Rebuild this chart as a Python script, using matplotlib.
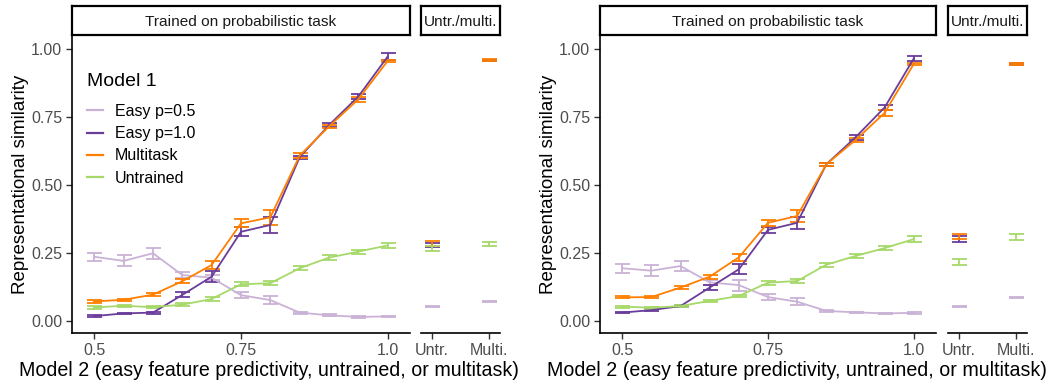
import matplotlib
matplotlib.use("Agg")
import matplotlib.pyplot as plt
from matplotlib.lines import Line2D

plt.rcParams["font.family"] = ["Liberation Sans", "DejaVu Sans"]

# ---- data -------------------------------------------------------------
predictivity = [0.5, 0.55, 0.6, 0.65, 0.7, 0.75, 0.8, 0.85, 0.9, 0.95, 1.0]
extra_cats = ["Untr.", "Multi."]
series_names = ["Easy p=0.5", "Easy p=1.0", "Multitask", "Untrained"]
series_colors = ["#cab2d6", "#6a3d9a", "#ff7f00", "#a6d96a"]

# left figure
left_p05 = [0.236, 0.221, 0.249, 0.169, 0.159, 0.095, 0.077, 0.031, 0.021, 0.015, 0.017]
left_p05_err = [0.015, 0.020, 0.021, 0.012, 0.010, 0.012, 0.015, 0.004, 0.003, 0.003, 0.003]
left_p10 = [0.018, 0.028, 0.031, 0.096, 0.163, 0.328, 0.353, 0.602, 0.720, 0.825, 0.972]
left_p10_err = [0.003, 0.003, 0.004, 0.009, 0.020, 0.017, 0.029, 0.006, 0.007, 0.010, 0.014]
left_multi = [0.072, 0.078, 0.097, 0.146, 0.206, 0.359, 0.381, 0.608, 0.715, 0.815, 0.956]
left_multi_err = [0.004, 0.004, 0.005, 0.007, 0.015, 0.015, 0.027, 0.008, 0.007, 0.010, 0.004]
left_untr = [0.050, 0.056, 0.051, 0.060, 0.081, 0.135, 0.139, 0.194, 0.233, 0.255, 0.278]
left_untr_err = [0.004, 0.004, 0.004, 0.005, 0.006, 0.008, 0.008, 0.008, 0.008, 0.007, 0.008]

left_extra_p05 = [0.053, 0.072]
left_extra_p05_err = [0.003, 0.003]
left_extra_p10 = [0.280, 0.957]
left_extra_p10_err = [0.008, 0.003]
left_extra_multi = [0.284, 0.960]
left_extra_multi_err = [0.010, 0.003]
left_extra_untr = [0.267, 0.283]
left_extra_untr_err = [0.010, 0.008]

# right figure
right_p05 = [0.194, 0.185, 0.202, 0.142, 0.132, 0.088, 0.071, 0.037, 0.032, 0.028, 0.030]
right_p05_err = [0.016, 0.020, 0.020, 0.010, 0.020, 0.010, 0.012, 0.004, 0.003, 0.003, 0.003]
right_p10 = [0.031, 0.040, 0.055, 0.123, 0.190, 0.335, 0.361, 0.576, 0.675, 0.785, 0.965]
right_p10_err = [0.003, 0.003, 0.004, 0.010, 0.018, 0.011, 0.023, 0.006, 0.008, 0.010, 0.010]
right_multi = [0.087, 0.088, 0.123, 0.163, 0.234, 0.361, 0.386, 0.576, 0.665, 0.765, 0.945]
right_multi_err = [0.004, 0.004, 0.005, 0.007, 0.013, 0.011, 0.023, 0.006, 0.007, 0.010, 0.004]
right_untr = [0.053, 0.049, 0.055, 0.074, 0.092, 0.141, 0.147, 0.207, 0.239, 0.268, 0.301]
right_untr_err = [0.004, 0.004, 0.004, 0.004, 0.005, 0.007, 0.009, 0.008, 0.007, 0.007, 0.010]

right_extra_p05 = [0.053, 0.086]
right_extra_p05_err = [0.003, 0.003]
right_extra_p10 = [0.302, 0.944]
right_extra_p10_err = [0.010, 0.003]
right_extra_multi = [0.310, 0.944]
right_extra_multi_err = [0.010, 0.003]
right_extra_untr = [0.217, 0.308]
right_extra_untr_err = [0.012, 0.012]

x_ticks = [0.5, 0.75, 1.0]
x_tick_labels = ["0.5", "0.75", "1.0"]
y_ticks = [0.0, 0.25, 0.5, 0.75, 1.0]
y_tick_labels = ["0.00", "0.25", "0.50", "0.75", "1.00"]

# ---- styling ------------------------------------------------------------
W, H = 1062, 386
TICK_COL = "#4d4d4d"
LW = 1.3
CAP = 5.4
YLIM = (-0.044, 1.051)


def fx(px):
    return px / W


def fy(px_top, px_bottom):
    return (H - px_bottom) / H, (px_bottom - px_top) / H


def strip(fig, left, right, label):
    b, h = fy(6, 35)
    sa = fig.add_axes([fx(left), b, fx(right - left), h])
    sa.set_xticks([])
    sa.set_yticks([])
    for s in sa.spines.values():
        s.set_linewidth(1.6)
        s.set_color("black")
    sa.text(0.5, 0.45, label, ha="center", va="center", fontsize=11.1,
            color="#1a1a1a", transform=sa.transAxes)


def style_bottom(ax):
    for side in ("top", "right"):
        ax.spines[side].set_visible(False)
    ax.spines["bottom"].set_linewidth(1.2)
    ax.tick_params(axis="x", length=4, width=1.0, color="#333333",
                   labelsize=11.5, labelcolor=TICK_COL, pad=3)


def draw_panel(fig, main_l, main_r, small_l, small_r, main_data, extra_data,
               label_x, show_legend):
    b, h = fy(35, 333)
    ax = fig.add_axes([fx(main_l), b, fx(main_r - main_l), h])
    for (mean, err), col in zip(main_data, series_colors):
        ax.errorbar(predictivity, mean, yerr=err, color=col, lw=LW,
                    elinewidth=LW, capsize=CAP, capthick=LW)
    ax.set_xlim(0.462, 1.038)
    ax.set_ylim(*YLIM)
    ax.set_xticks(x_ticks, x_tick_labels)
    ax.set_yticks(y_ticks, y_tick_labels)
    style_bottom(ax)
    ax.spines["left"].set_linewidth(1.2)
    ax.tick_params(axis="y", length=4, width=1.0, color="#333333",
                   labelsize=11.5, labelcolor=TICK_COL, pad=3)
    ax.set_ylabel("Representational similarity", fontsize=13.5, labelpad=1.8)

    axs = fig.add_axes([fx(small_l), b, fx(small_r - small_l), h])
    for (mean, err), col in zip(extra_data, series_colors):
        axs.errorbar([1, 2], mean, yerr=err, color=col, lw=0, ls="none",
                     elinewidth=LW, capsize=CAP, capthick=LW)
    axs.set_xlim(0.81, 2.19)
    axs.set_ylim(*YLIM)
    axs.set_xticks([1, 2], extra_cats)
    axs.set_yticks([])
    style_bottom(axs)
    axs.spines["left"].set_visible(False)

    strip(fig, main_l, main_r, "Trained on probabilistic task")
    strip(fig, small_l, small_r, "Untr./multi.")

    fig.text(fx(label_x), 1 - 371 / H,
             "Model 2 (easy feature predictivity, untrained, or multitask)",
             ha="center", va="center", fontsize=14.1)

    if show_legend:
        fig.text(fx(main_l + 15), 1 - 82 / H, "Model 1", ha="left",
                 va="center", fontsize=14, color="black")
        handles = [Line2D([], [], color=c, lw=1.6) for c in series_colors]
        ax.legend(handles, series_names, loc="upper left",
                  bbox_to_anchor=(fx(main_l + 15), 1 - 104 / H),
                  bbox_transform=fig.transFigure,
                  frameon=False, fontsize=11.5, borderpad=0.0,
                  handlelength=1.0, handletextpad=0.75,
                  labelspacing=0.45, borderaxespad=0.0)
    return ax, axs


fig = plt.figure(figsize=(W / 100, H / 100), dpi=100)

left_main = [(left_p05, left_p05_err), (left_p10, left_p10_err),
             (left_multi, left_multi_err), (left_untr, left_untr_err)]
left_extra = [(left_extra_p05, left_extra_p05_err),
              (left_extra_p10, left_extra_p10_err),
              (left_extra_multi, left_extra_multi_err),
              (left_extra_untr, left_extra_untr_err)]
right_main = [(right_p05, right_p05_err), (right_p10, right_p10_err),
              (right_multi, right_multi_err), (right_untr, right_untr_err)]
right_extra = [(right_extra_p05, right_extra_p05_err),
               (right_extra_p10, right_extra_p10_err),
               (right_extra_multi, right_extra_multi_err),
               (right_extra_untr, right_extra_untr_err)]

draw_panel(fig, 72, 410, 421, 500, left_main, left_extra, 269, True)
draw_panel(fig, 600, 936, 948, 1027, right_main, right_extra, 797, False)

fig.savefig("out.png", dpi=100, facecolor="white")
